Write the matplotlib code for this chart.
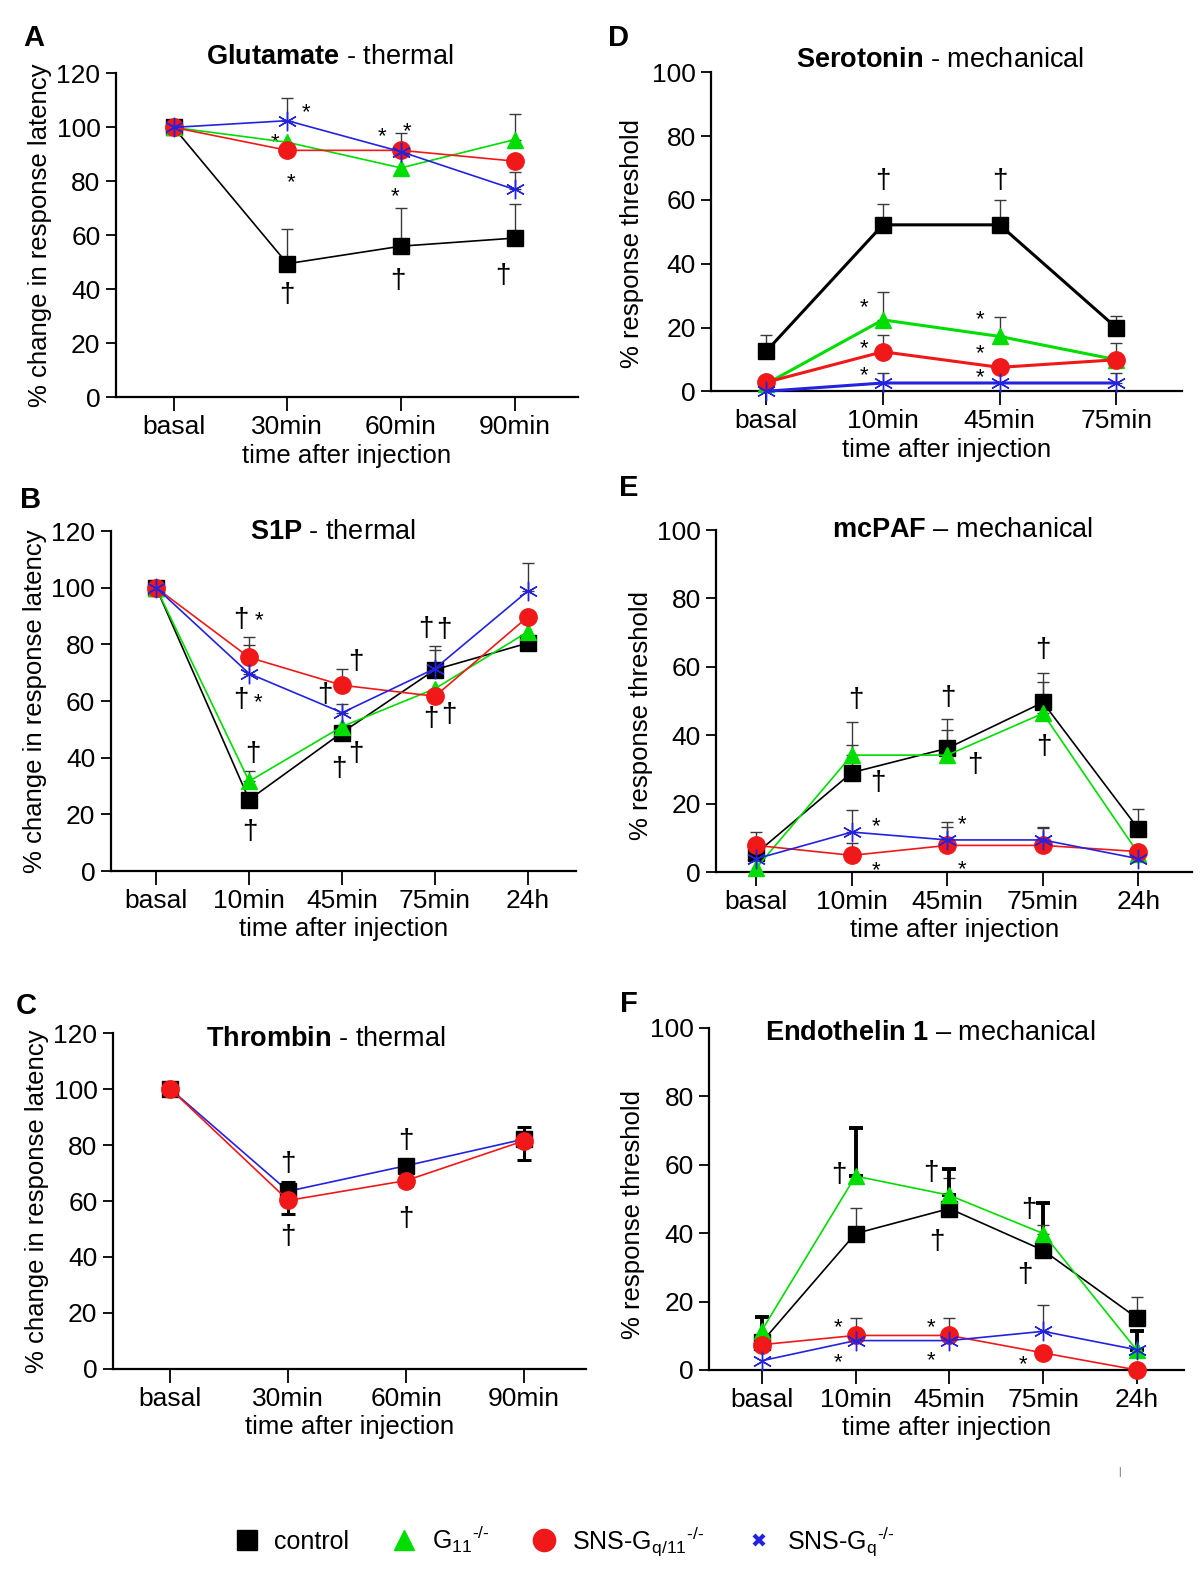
import matplotlib
matplotlib.use("Agg")
import matplotlib.pyplot as plt
from matplotlib.lines import Line2D

plt.rcParams['font.family'] = ['Liberation Sans', 'DejaVu Sans']
plt.rcParams['mathtext.fontset'] = 'custom'
plt.rcParams['mathtext.rm'] = 'Liberation Sans'
plt.rcParams['mathtext.bf'] = 'Liberation Sans:bold'
plt.rcParams['mathtext.it'] = 'Liberation Sans:italic'

# ---------------- data ----------------
cat_30 = ['basal', '30min', '60min', '90min']
cat_4 = ['basal', '10min', '45min', '75min']
cat_5 = ['basal', '10min', '45min', '75min', '24h']

# A  Glutamate - thermal
A_control = [100, 49.5, 56, 59];      A_control_err = [0, 13, 14, 12.5]
A_g11 = [100, 94.5, 85, 95.5];        A_g11_err = [0, 0, 0, 9.5]
A_gq11 = [100, 91.5, 91.5, 87.5];     A_gq11_err = [0, 0, 6.5, 0]
A_gq = [100, 102.5, 91, 77];          A_gq_err = [0, 8.5, 0, 6.5]
A_marks = [('*', 0.89, 97), ('*', 1.16, 108), ('*', 1.03, 82), ('*', 1.83, 99),
           ('*', 2.05, 101), ('*', 1.95, 77), ('†', 1.0, 38), ('†', 1.97, 43), ('†', 2.9, 45)]

# B  S1P - thermal
B_control = [100, 25.2, 48.9, 71.1, 80.5]; B_control_err = [0, 0, 0, 7, 0]
B_g11 = [100, 31.7, 51, 64.4, 84.5];       B_g11_err = [0, 3.5, 0, 0, 0]
B_gq11 = [100, 75.4, 65.6, 61.7, 89.8];    B_gq11_err = [0, 7.3, 5.7, 0, 0]
B_gq = [100, 69.7, 55.9, 71.5, 98.9];      B_gq_err = [0, 10, 3, 8, 10]
B_marks = [('†', 0.91, 88.6), ('*', 1.11, 91), ('†', 0.91, 60.3), ('*', 1.1, 62),
           ('†', 1.04, 41.5), ('†', 1.01, 13.8), ('†', 2.15, 73.9), ('†', 1.81, 62),
           ('†', 2.15, 41.5), ('†', 1.96, 36), ('†', 2.9, 85.6), ('†', 3.1, 85),
           ('†', 2.95, 53.8), ('†', 3.15, 55)]

# C  Thrombin - thermal
C_control = [100, 63.5, 72.6, 82.1];  C_control_up = [0, 3.2, 0, 4.2]; C_control_dn = [0, 0, 0, 7.5]
C_gq11 = [100, 60.2, 67.3, 81.5];     C_gq11_dn = [0, 5, 2, 0]
C_marks = [('†', 1.0, 73.2), ('†', 1.0, 47.2), ('†', 2.0, 81.5), ('†', 2.0, 53.7)]

# D  Serotonin - mechanical
D_control = [12.5, 52.2, 52.2, 19.9]; D_control_err = [5, 6.6, 7.7, 3.7]
D_g11 = [2.3, 22.4, 17.2, 9.9];       D_g11_err = [0, 8.8, 6.1, 0]
D_gq11 = [2.8, 12.4, 7.5, 9.9];       D_gq11_err = [2.1, 5.3, 0, 5.3]
D_gq = [0, 2.6, 2.6, 2.6];            D_gq_err = [0, 3.1, 0, 3.1]
D_marks = [('†', 1.0, 66), ('†', 2.0, 66), ('*', 0.84, 28.4), ('*', 0.84, 15.6),
           ('*', 0.84, 7), ('*', 1.83, 24.8), ('*', 1.83, 14.1), ('*', 1.83, 6.5)]

# E  mcPAF - mechanical
E_control = [5.5, 29.1, 36.2, 49.6, 12.6]; E_control_err = [0, 14.7, 8.5, 8.5, 5.8]
E_g11 = [1.2, 34.2, 34.2, 46.4, 5.4];      E_g11_err = [0, 3, 7.4, 9.3, 0]
E_gq11 = [7.8, 4.9, 7.8, 7.8, 6.0];        E_gq11_err = [4, 3.6, 5.5, 5, 0]
E_gq = [3.9, 11.7, 9.4, 9.4, 3.9];         E_gq_err = [0, 6.5, 5.2, 3.9, 0]
E_marks = [('†', 1.04, 50.3), ('†', 1.27, 26), ('†', 2.01, 50.8), ('†', 2.29, 31.4),
           ('†', 3.0, 65), ('†', 3.01, 36.7), ('*', 1.25, 15.3), ('*', 1.25, 2.6),
           ('*', 2.15, 15.8), ('*', 2.15, 2.8)]

# F  Endothelin 1 - mechanical
F_control = [8.1, 39.9, 47.2, 35, 15.2];   F_control_err = [7.3, 7.6, 9, 13.9, 6.1]
F_g11 = [11.5, 56.7, 51.1, 39.9, 5.7];     F_g11_err = [0, 14, 7.8, 2.4, 5.8]
F_gq11 = [7.4, 10.1, 10.1, 5, 0];          F_gq11_err = [0, 5.1, 5.1, 0, 0]
F_gq = [2.7, 8.6, 8.6, 11.3, 5.9];         F_gq_err = [0, 0, 0, 7.6, 0]
F_control_thick = [1, 0, 0, 1, 0]
F_g11_thick = [0, 1, 1, 0, 1]
F_marks = [('†', 0.82, 57), ('†', 1.8, 57.5), ('†', 1.87, 37.4), ('†', 2.85, 46.7),
           ('†', 2.8, 27.7), ('*', 0.81, 14.5), ('*', 0.81, 4.2), ('*', 1.81, 14.5),
           ('*', 1.81, 4.7), ('*', 2.79, 3.7)]

legend_labels = ['control', r'G$_{11}$$^{\text{-/-}}$', r'SNS-G$_{\mathrm{q/11}}$$^{\text{-/-}}$',
                 r'SNS-G$_{\mathrm{q}}$$^{\text{-/-}}$']

# ---------------- styles ----------------
BLACK = '#000000'
GREEN = '#00dd00'
RED = '#f01818'
BLUE = '#2222e0'
ASTER = (6, 2, 0)
FS = 19

W, H = 1200, 1577
S = 1200 / 1193.0

fig = plt.figure(figsize=(12, 15.77), dpi=100)


def axpos(left, right, top, bottom):
    return [left * S / W, 1 - bottom * S / H, (right - left) * S / W, (bottom - top) * S / H]


def ftext(x, y, s, **kw):
    fig.text(x * S / W, 1 - y * S / H, s, **kw)


def setup(ax, cats, ymax, xl, xr, ystep=20):
    ax.set_xlim(xl, xr)
    ax.set_ylim(0, ymax)
    ax.set_xticks(range(len(cats)))
    ax.set_xticklabels(cats, fontsize=FS)
    ax.set_yticks(range(0, ymax + 1, ystep))
    ax.tick_params(axis='y', labelsize=FS, length=7, width=1.3, direction='out', pad=4)
    ax.tick_params(axis='x', length=10, width=1.3, direction='out', pad=3)
    for s in ['top', 'right']:
        ax.spines[s].set_visible(False)
    for s in ['left', 'bottom']:
        ax.spines[s].set_linewidth(1.6)


def series(ax, y, err, color, marker, ms, lw=1.2, z=3, mew=1.0, thick=None, ecol='#3a3a3a'):
    x = list(range(len(y)))
    for i, (yi, ei) in enumerate(zip(y, err)):
        if ei > 0:
            tk = thick is not None and thick[i]
            ax.errorbar([i], [yi], yerr=[[0], [ei]], fmt='none',
                        ecolor=('black' if tk else ecol), elinewidth=(2.8 if tk else 1.0),
                        capsize=(5 if tk else 4), capthick=(2.8 if tk else 1.0), zorder=2)
    if marker == ASTER:
        ax.plot(x, y, color=color, lw=lw, marker=marker, ms=ms, mew=mew,
                mec=color, zorder=z, clip_on=False)
    else:
        ax.plot(x, y, color=color, lw=lw, marker=marker, ms=ms, mec=color,
                mfc=color, zorder=z, clip_on=False)


def marks(ax, lst):
    for s, x, y in lst:
        if s == '*':
            ax.annotate(s, (x, y), xytext=(0, -9), textcoords='offset points',
                        ha='center', va='baseline', fontsize=16)
        else:
            ax.annotate(s, (x, y), ha='center', va='center', fontsize=20)


def draw4(ax, c, ce, g, ge, r, re, b, be, lw=1.2, thick_c=None, thick_g=None):
    series(ax, c, ce, BLACK, 's', 11.5, lw=lw, z=3, thick=thick_c)
    series(ax, g, ge, GREEN, '^', 12, lw=lw, z=4, thick=thick_g)
    series(ax, r, re, RED, 'o', 12.5, lw=lw, z=5)
    series(ax, b, be, BLUE, ASTER, 14, lw=lw, z=6, mew=1.0)


# ---- A ----
axA = fig.add_axes(axpos(115, 575, 73, 395))
setup(axA, cat_30, 120, -0.51, 3.56)
draw4(axA, A_control, A_control_err, A_g11, A_g11_err, A_gq11, A_gq11_err, A_gq, A_gq_err)
marks(axA, A_marks)

# ---- D ----
axD = fig.add_axes(axpos(707, 1175, 72, 389))
setup(axD, cat_4, 100, -0.47, 3.56)
draw4(axD, D_control, D_control_err, D_g11, D_g11_err, D_gq11, D_gq11_err, D_gq, D_gq_err, lw=2.2)
marks(axD, D_marks)

# ---- B ----
axB = fig.add_axes(axpos(110, 573, 528, 866))
setup(axB, cat_5, 120, -0.49, 4.52)
draw4(axB, B_control, B_control_err, B_g11, B_g11_err, B_gq11, B_gq11_err, B_gq, B_gq_err)
marks(axB, B_marks)

# ---- E ----
axE = fig.add_axes(axpos(712, 1185, 527, 867))
setup(axE, cat_5, 100, -0.42, 4.56)
draw4(axE, E_control, E_control_err, E_g11, E_g11_err, E_gq11, E_gq11_err, E_gq, E_gq_err)
marks(axE, E_marks)

# ---- C ----
axC = fig.add_axes(axpos(112, 583, 1027, 1361))
setup(axC, cat_30, 120, -0.49, 3.53)
xc = list(range(len(C_control)))
axC.errorbar(xc, C_control, yerr=[C_control_dn, C_control_up], fmt='none', ecolor='black',
             elinewidth=2.2, capsize=5, capthick=2.2, zorder=2)
axC.errorbar(xc, C_gq11, yerr=[C_gq11_dn, [0] * len(C_gq11)], fmt='none', ecolor='black',
             elinewidth=2.2, capsize=5, capthick=2.2, zorder=2)
axC.plot(xc, C_control, color=BLUE, lw=1.2, marker='s', ms=11.5, mfc=BLACK, mec=BLACK, zorder=3,
         clip_on=False)
axC.plot(xc, C_gq11, color=RED, lw=1.2, marker='o', ms=12.5, mfc=RED, mec=RED, zorder=4,
         clip_on=False)
marks(axC, C_marks)

# ---- F ----
axF = fig.add_axes(axpos(705, 1177, 1022, 1362))
setup(axF, cat_5, 100, -0.56, 4.5)
draw4(axF, F_control, F_control_err, F_g11, F_g11_err, F_gq11, F_gq11_err, F_gq, F_gq_err,
      thick_c=F_control_thick, thick_g=F_g11_thick)
marks(axF, F_marks)

# axis labels
for ax, lab in [(axA, '% change in response latency'), (axB, '% change in response latency'),
                (axC, '% change in response latency'), (axD, '% response threshold'),
                (axE, '% response threshold'), (axF, '% response threshold')]:
    ax.set_ylabel(lab, fontsize=18.5, labelpad=3)
    ax.set_xlabel('time after injection', fontsize=18.5, labelpad=3)

axD.yaxis.set_label_coords(-0.143, 0.464)
axE.yaxis.set_label_coords(-0.133, 0.459)
axF.yaxis.set_label_coords(-0.135, 0.456)

# titles
TFS = 19.5
ftext(328, 57, r'$\mathbf{Glutamate}$ - thermal', fontsize=TFS, ha='center', va='center')
ftext(935, 60, r'$\mathbf{Serotonin}$ - mechanical', fontsize=TFS, ha='center', va='center')
ftext(331, 529, r'$\mathbf{S1P}$ - thermal', fontsize=TFS, ha='center', va='center')
ftext(957, 527, r'$\mathbf{mcPAF}$ – mechanical', fontsize=TFS, ha='center', va='center')
ftext(324, 1033, r'$\mathbf{Thrombin}$ - thermal', fontsize=TFS, ha='center', va='center')
ftext(925, 1027, r'$\mathbf{Endothelin\ 1}$ – mechanical', fontsize=TFS, ha='center', va='center')

# panel letters
for (x, y, L) in [(34, 38, 'A'), (615, 38, 'D'), (30, 497, 'B'), (625, 485, 'E'),
                  (26, 1000, 'C'), (625, 998, 'F')]:
    ftext(x, y, L, fontsize=21, fontweight='bold', ha='center', va='center')

ftext(1113, 1463, '|', fontsize=7, color='#555555', ha='center', va='center')

# legend
handles = [
    Line2D([], [], ls='none', marker='s', ms=15, color=BLACK),
    Line2D([], [], ls='none', marker='^', ms=15, color=GREEN),
    Line2D([], [], ls='none', marker='o', ms=16, color=RED),
    Line2D([], [], ls='none', marker='x', ms=7, mew=3, color=BLUE),
]
fig.legend(handles, legend_labels, loc='center', bbox_to_anchor=(561 * S / W, 1 - 1532 * S / H),
           ncol=4, frameon=False, fontsize=18, columnspacing=1.7, handletextpad=0.6,
           handlelength=1.0)

fig.savefig('out.png', dpi=100)
